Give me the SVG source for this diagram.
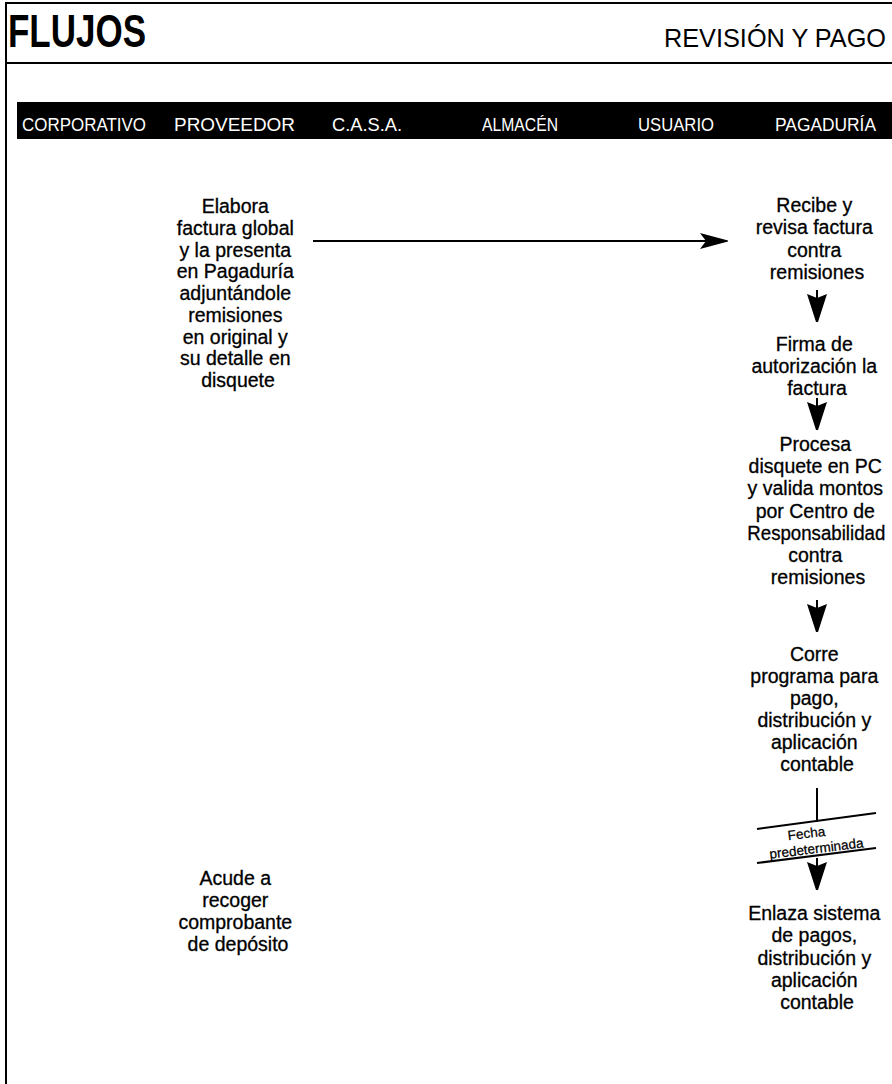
<svg xmlns="http://www.w3.org/2000/svg" width="892" height="1084" viewBox="0 0 892 1084">
  <style>
    .frame { stroke: #000; stroke-width: 2; fill: none; }
    .lane { font-family: "Liberation Sans", Arial, sans-serif; font-size: 18px; fill: #fff; }
    .step { font-family: "Liberation Sans", Arial, sans-serif; font-size: 19.5px; fill: #000; stroke: #000; stroke-width: 0.3; text-anchor: middle; }
    .note { font-family: "Liberation Sans", Arial, sans-serif; font-size: 13.5px; fill: #000; stroke: #000; stroke-width: 0.25; text-anchor: middle; }
    .wire { stroke: #000; stroke-width: 2; fill: none; }
    .head { fill: #000; stroke: none; }
  </style>
  <defs>
    <!-- downward arrowhead with a short stem, tip at (0,0) -->
    <g id="down">
      <line x1="0" y1="-32" x2="0" y2="-24" stroke="#000" stroke-width="2"/>
      <path class="head" d="M-10,-28 L0,-24 L10,-28 L1,0 L-1,0 Z"/>
    </g>
  </defs>

  <rect width="892" height="1084" fill="#fff"/>

  <!-- page frame and title band -->
  <g id="frame">
    <line class="frame" x1="6" y1="3" x2="892" y2="3"/>
    <line class="frame" x1="6" y1="2" x2="6" y2="1084"/>
    <line class="frame" x1="6" y1="63" x2="892" y2="63"/>
    <text x="8" y="47" font-family="Liberation Sans, Arial, sans-serif" font-size="46" font-weight="bold" textLength="138" lengthAdjust="spacingAndGlyphs">FLUJOS</text>
    <text x="664" y="47" font-family="Liberation Sans, Arial, sans-serif" font-size="25" textLength="222" lengthAdjust="spacingAndGlyphs">REVISIÓN Y PAGO</text>
  </g>

  <!-- swimlane header bar -->
  <g id="lanes">
    <rect x="17" y="102" width="875" height="37" fill="#000"/>
    <text class="lane" x="22" y="131" textLength="124" lengthAdjust="spacingAndGlyphs">CORPORATIVO</text>
    <text class="lane" x="174" y="131" textLength="121" lengthAdjust="spacingAndGlyphs">PROVEEDOR</text>
    <text class="lane" x="332" y="131" textLength="70" lengthAdjust="spacingAndGlyphs">C.A.S.A.</text>
    <text class="lane" x="482" y="131" textLength="76" lengthAdjust="spacingAndGlyphs">ALMACÉN</text>
    <text class="lane" x="638" y="131" textLength="76" lengthAdjust="spacingAndGlyphs">USUARIO</text>
    <text class="lane" x="775" y="131" textLength="101" lengthAdjust="spacingAndGlyphs">PAGADURÍA</text>
  </g>

  <!-- Proveedor steps -->
  <g id="elabora-factura">
    <text class="step" x="238" y="213">
      <tspan x="238">Elabora</tspan>
      <tspan x="238" dy="21.75">factura global</tspan>
      <tspan x="238" dy="21.75">y la presenta</tspan>
      <tspan x="238" dy="21.75">en Pagaduría</tspan>
      <tspan x="238" dy="21.75">adjuntándole</tspan>
      <tspan x="238" dy="21.75">remisiones</tspan>
      <tspan x="238" dy="21.75">en original y</tspan>
      <tspan x="238" dy="21.75">su detalle en</tspan>
      <tspan x="238" dy="21.75">disquete</tspan>
    </text>
  </g>
  <g id="acude-recoger">
    <text class="step" x="238" y="885">
      <tspan x="238">Acude a</tspan>
      <tspan x="238" dy="22">recoger</tspan>
      <tspan x="238" dy="22">comprobante</tspan>
      <tspan x="238" dy="22">de depósito</tspan>
    </text>
  </g>

  <!-- Pagaduría steps -->
  <g id="recibe-revisa">
    <text class="step" x="817" y="212">
      <tspan x="817">Recibe y</tspan>
      <tspan x="817" dy="22.3">revisa factura</tspan>
      <tspan x="817" dy="22.3">contra</tspan>
      <tspan x="817" dy="22.3">remisiones</tspan>
    </text>
  </g>
  <g id="firma-autorizacion">
    <text class="step" x="817" y="351">
      <tspan x="817">Firma de</tspan>
      <tspan x="817" dy="22">autorización la</tspan>
      <tspan x="817" dy="22">factura</tspan>
    </text>
  </g>
  <g id="procesa-disquete">
    <text class="step" x="818" y="451">
      <tspan x="818">Procesa</tspan>
      <tspan x="818" dy="22.2">disquete en PC</tspan>
      <tspan x="818" dy="22.2">y valida montos</tspan>
      <tspan x="818" dy="22.2">por Centro de</tspan>
      <tspan x="819" dy="22.2" textLength="138" lengthAdjust="spacingAndGlyphs">Responsabilidad</tspan>
      <tspan x="818" dy="22.2">contra</tspan>
      <tspan x="818" dy="22.2">remisiones</tspan>
    </text>
  </g>
  <g id="corre-programa">
    <text class="step" x="817" y="661">
      <tspan x="817">Corre</tspan>
      <tspan x="817" dy="22">programa para</tspan>
      <tspan x="817" dy="22">pago,</tspan>
      <tspan x="817" dy="22">distribución y</tspan>
      <tspan x="817" dy="22">aplicación</tspan>
      <tspan x="817" dy="22">contable</tspan>
    </text>
  </g>
  <g id="enlaza-sistema">
    <text class="step" x="817" y="920">
      <tspan x="817">Enlaza sistema</tspan>
      <tspan x="817" dy="22.25">de pagos,</tspan>
      <tspan x="817" dy="22.25">distribución y</tspan>
      <tspan x="817" dy="22.25">aplicación</tspan>
      <tspan x="817" dy="22.25">contable</tspan>
    </text>
  </g>

  <!-- connectors -->
  <g id="connectors">
    <line class="wire" x1="313" y1="241" x2="706" y2="241"/>
    <path class="head" d="M700,233 L706,241 L700,249 L728,241.5 L728,240.5 Z"/>
    <use href="#down" x="817" y="322"/>
    <use href="#down" x="817" y="430"/>
    <use href="#down" x="817" y="632"/>
    <!-- scheduled-date gate -->
    <line class="wire" x1="817" y1="788" x2="817" y2="822"/>
    <line class="wire" x1="757" y1="829" x2="876" y2="813"/>
    <text class="note" transform="translate(807,838) rotate(-7)">Fecha</text>
    <text class="note" transform="translate(817,853) rotate(-7)">predeterminada</text>
    <line class="wire" x1="757" y1="863" x2="876" y2="848"/>
    <use href="#down" x="817" y="890"/>
  </g>
</svg>
